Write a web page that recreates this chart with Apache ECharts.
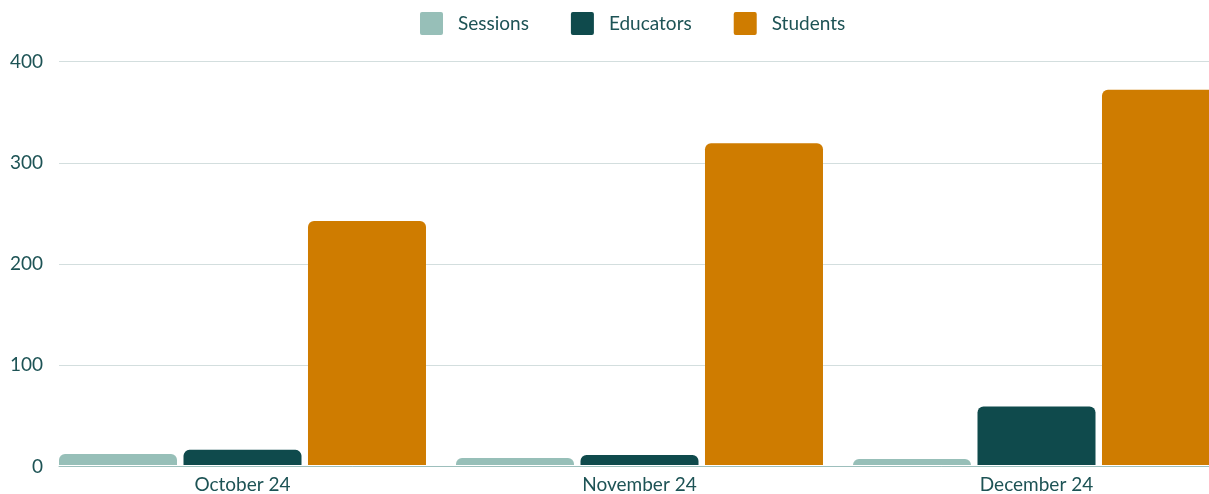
<!DOCTYPE html>
<html>
<head>
<meta charset="utf-8">
<script src="https://cdn.jsdelivr.net/npm/echarts@6/dist/echarts.min.js"></script>
<style>
html,body{margin:0;padding:0;background:#fff;overflow:hidden;width:1209px;height:494px;}
#chart{width:1235px;height:494px;}
</style>
</head>
<body>
<div id="chart"></div>
<script>
const categories = ['October 24', 'November 24', 'December 24'];
const sessions = [11, 7, 6];
const educators = [15, 10, 58];
const students = [242, 319, 372];
const yTicks = [0, 100, 200, 300, 400];

const textColor = '#1d5355';
const font = 'Lato';
const chart = echarts.init(document.getElementById('chart'));
const barStyle = (c) => ({ color: c, borderRadius: [6, 6, 0, 0] });
const sq = 'path://M2,0 L21,0 Q23,0 23,2 L23,21 Q23,23 21,23 L2,23 Q0,23 0,21 L0,2 Q0,0 2,0 Z';

chart.setOption({
  animation: false,
  textStyle: { fontFamily: font },
  legend: {
    top: 7, left: 415,
    itemWidth: 23, itemHeight: 23, itemGap: 42,
    icon: sq,
    textStyle: { color: textColor, fontSize: 19, fontFamily: font, padding: [0, 0, 0, 10] },
    data: ['Sessions', 'Educators', 'Students']
  },
  grid: [
    { left: 59, right: 0, top: 61.5, bottom: 27.5, containLabel: false },
    { left: 44, right: 0, top: 61.5, bottom: 27.5, containLabel: false }
  ],
  xAxis: [
    { gridIndex: 0, type: 'category', data: categories,
      axisLine: { show: true, lineStyle: { color: '#9dbfbc', width: 1 } },
      axisTick: { show: false }, axisLabel: { show: false } },
    { gridIndex: 1, type: 'category', data: categories,
      axisLine: { show: false }, axisTick: { show: false },
      axisLabel: { color: textColor, fontSize: 19, fontFamily: font, margin: 10 } }
  ],
  yAxis: [
    { gridIndex: 0, type: 'value', min: yTicks[0], max: yTicks[yTicks.length - 1], interval: 100,
      axisLine: { show: false }, axisTick: { show: false },
      axisLabel: { color: textColor, fontSize: 19, fontFamily: font, margin: 16 },
      splitLine: { lineStyle: { color: '#d3dede', width: 1 } } },
    { gridIndex: 1, type: 'value', min: yTicks[0], max: yTicks[yTicks.length - 1], interval: 100,
      show: false, splitLine: { show: false } }
  ],
  series: [
    { name: 'Sessions', type: 'bar', xAxisIndex: 1, yAxisIndex: 1, data: sessions,
      barWidth: 118, barGap: '5.5%', itemStyle: barStyle('#97bfb8') },
    { name: 'Educators', type: 'bar', xAxisIndex: 1, yAxisIndex: 1, data: educators,
      barWidth: 118, barGap: '5.5%', itemStyle: barStyle('#0f4a4c') },
    { name: 'Students', type: 'bar', xAxisIndex: 1, yAxisIndex: 1, data: students,
      barWidth: 118, barGap: '5.5%', itemStyle: barStyle('#cf7c00') }
  ]
});
</script>
</body>
</html>
